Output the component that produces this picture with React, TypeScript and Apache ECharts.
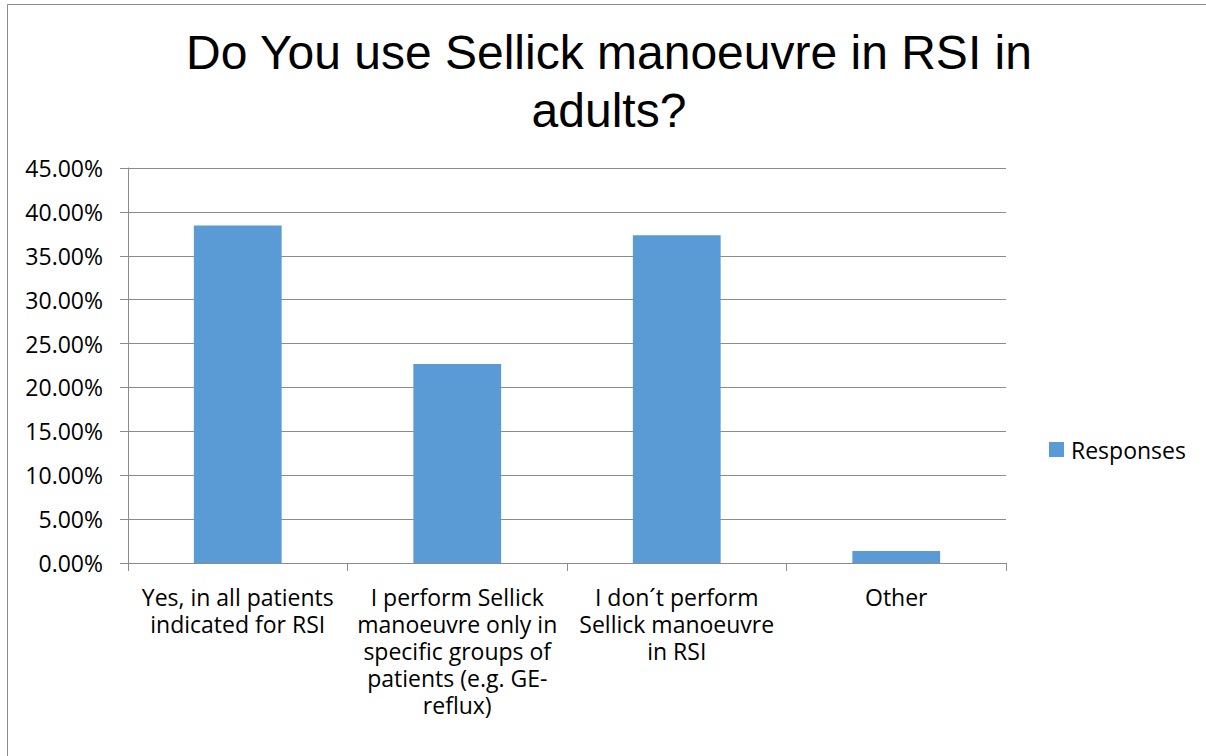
import React, { useEffect, useRef } from "react";
import * as echarts from "echarts";

const titleText = "Do You use Sellick manoeuvre in RSI in\nadults?";
const categories = [
  "Yes, in all patients\nindicated for RSI",
  "I perform Sellick\nmanoeuvre only in\nspecific groups of\npatients (e.g. GE-\nreflux)",
  "I don´t perform\nSellick manoeuvre\nin RSI",
  "Other",
];
const seriesName = "Responses";
const responses = [38.46, 22.66, 37.35, 1.37];
const yMin = 0;
const yMax = 45;
const yInterval = 5;

export default function App() {
  const ref = useRef<HTMLDivElement>(null);
  useEffect(() => {
    if (!ref.current) return;
    const chart = echarts.init(ref.current, undefined, { renderer: "svg" });
    const font = "Open Sans";
    chart.setOption({
      animation: false,
      backgroundColor: "#ffffff",
      title: {
        text: titleText,
        left: 609,
        top: 23,
        padding: 0,
        textAlign: "center",
        textStyle: {
          fontFamily: "Liberation Sans, Arial, sans-serif",
          fontSize: 48,
          fontWeight: "normal",
          color: "#000000",
          lineHeight: 58,
        },
      },
      legend: {
        data: [seriesName],
        orient: "vertical",
        left: 1044,
        top: 433,
        itemWidth: 15,
        itemHeight: 15,
        icon: "rect",
        textStyle: {
          fontFamily: font,
          fontSize: 23,
          color: "#000000",
          padding: [0, 0, 0, 2],
        },
      },
      grid: {
        left: 128,
        right: 200,
        top: 168,
        bottom: 193,
        containLabel: false,
        outerBoundsMode: "none",
      },
      xAxis: {
        type: "category",
        data: categories,
        axisLine: { lineStyle: { color: "#8c8c8c", width: 1 } },
        axisTick: { show: true, length: 8, lineStyle: { color: "#8c8c8c" }, alignWithLabel: false },
        axisLabel: {
          interval: 0,
          margin: 20,
          fontFamily: font,
          fontSize: 23,
          lineHeight: 27,
          color: "#000000",
          align: "center",
        },
      },
      yAxis: {
        type: "value",
        min: yMin,
        max: yMax,
        interval: yInterval,
        axisLine: { show: true, lineStyle: { color: "#8c8c8c", width: 1 } },
        axisTick: { show: true, length: 8, lineStyle: { color: "#8c8c8c" } },
        splitLine: { show: true, lineStyle: { color: "#8c8c8c", width: 1 } },
        axisLabel: {
          margin: 25,
          fontFamily: font,
          fontSize: 23,
          color: "#000000",
          formatter: (v: number) => v.toFixed(2) + "%",
        },
      },
      series: [
        {
          name: seriesName,
          type: "bar",
          data: responses,
          barCategoryGap: "60%",
          itemStyle: { color: "#5b9bd5" },
        },
      ],
      graphic: [
        {
          type: "rect",
          shape: { x: 7.5, y: 4.5, width: 1220, height: 780 },
          style: { fill: "none", stroke: "#8c8c8c", lineWidth: 1 },
          silent: true,
        },
      ],
    });
    return () => chart.dispose();
  }, []);
  return (
    <div
      ref={ref}
      style={{ position: "fixed", left: 0, top: 0, width: 1206, height: 756 }}
    />
  );
}
